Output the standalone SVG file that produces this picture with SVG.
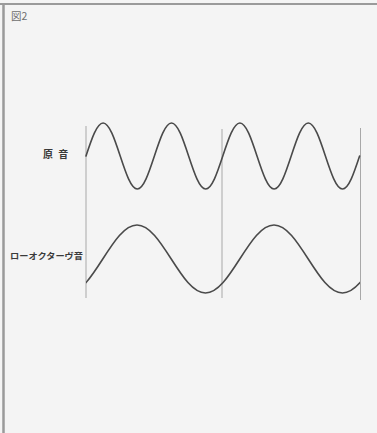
<svg xmlns="http://www.w3.org/2000/svg" width="377" height="433" viewBox="0 0 377 433">
  <style>
    .wave { fill: none; stroke: #4a4a4a; stroke-width: 1.6; stroke-linecap: round; stroke-linejoin: round; }
    .guide { stroke: #a8a8a8; stroke-width: 1; }
    .label { font-family: "Noto Sans CJK JP", "Noto Sans", sans-serif; fill: #3a3a3a; font-weight: bold; }
    .title { font-family: "Noto Sans CJK JP", "Noto Sans", sans-serif; fill: #6e6e6e; font-weight: normal; }
    .frame { stroke: #9a9a9a; }
  </style>
  <defs>
    <clipPath id="clipLow">
      <rect x="86" y="200" width="274" height="110"/>
    </clipPath>
  </defs>
  <rect x="0" y="0" width="377" height="433" fill="#f4f4f4"/>
  <g id="frame">
    <line class="frame" x1="0" y1="4" x2="377" y2="4" stroke-width="2.2"/>
    <line class="frame" x1="3.5" y1="4" x2="3.5" y2="433" stroke-width="2.5"/>
  </g>
  <g id="title">
    <text class="title" x="11" y="20" font-size="10.5">図2</text>
  </g>
  <g id="connectors">
    <line class="guide" x1="86" y1="126" x2="86" y2="298"/>
    <line class="guide" x1="222" y1="129" x2="222" y2="298"/>
    <line class="guide" x1="360.5" y1="128" x2="360.5" y2="300"/>
  </g>
  <g id="original-wave">
    <path class="wave" d="M86,156 c5.58,-16.92 10.93,-33 17.1,-33 s11.52,16.08 17.1,33 s10.93,33 17.1,33 s11.52,-16.08 17.1,-33 s10.93,-33 17.1,-33 s11.52,16.08 17.1,33 s10.93,33 17.1,33 s11.52,-16.08 17.1,-33 s10.93,-33 17.1,-33 s11.52,16.08 17.1,33 s10.93,33 17.1,33 s11.52,-16.08 17.1,-33 s10.93,-33 17.1,-33 s11.52,16.08 17.1,33 s10.93,33 17.1,33 s11.52,-16.08 17.1,-33"/>
    <text class="label" x="43" y="158" font-size="10" letter-spacing="1.5">原 音</text>
  </g>
  <g id="low-octave-wave">
    <path class="wave" clip-path="url(#clipLow)" d="M68.5,293 c12.37,0 23.07,-16.56 34.25,-34 s21.88,-34 34.25,-34 s23.07,16.56 34.25,34 s21.88,34 34.25,34 s23.07,-16.56 34.25,-34 s21.88,-34 34.25,-34 s23.07,16.56 34.25,34 s21.88,34 34.25,34 s23.07,-16.56 34.25,-34"/>
    <text class="label" x="10" y="259" font-size="8.5" textLength="73" lengthAdjust="spacingAndGlyphs">ローオクターヴ音</text>
  </g>
</svg>
